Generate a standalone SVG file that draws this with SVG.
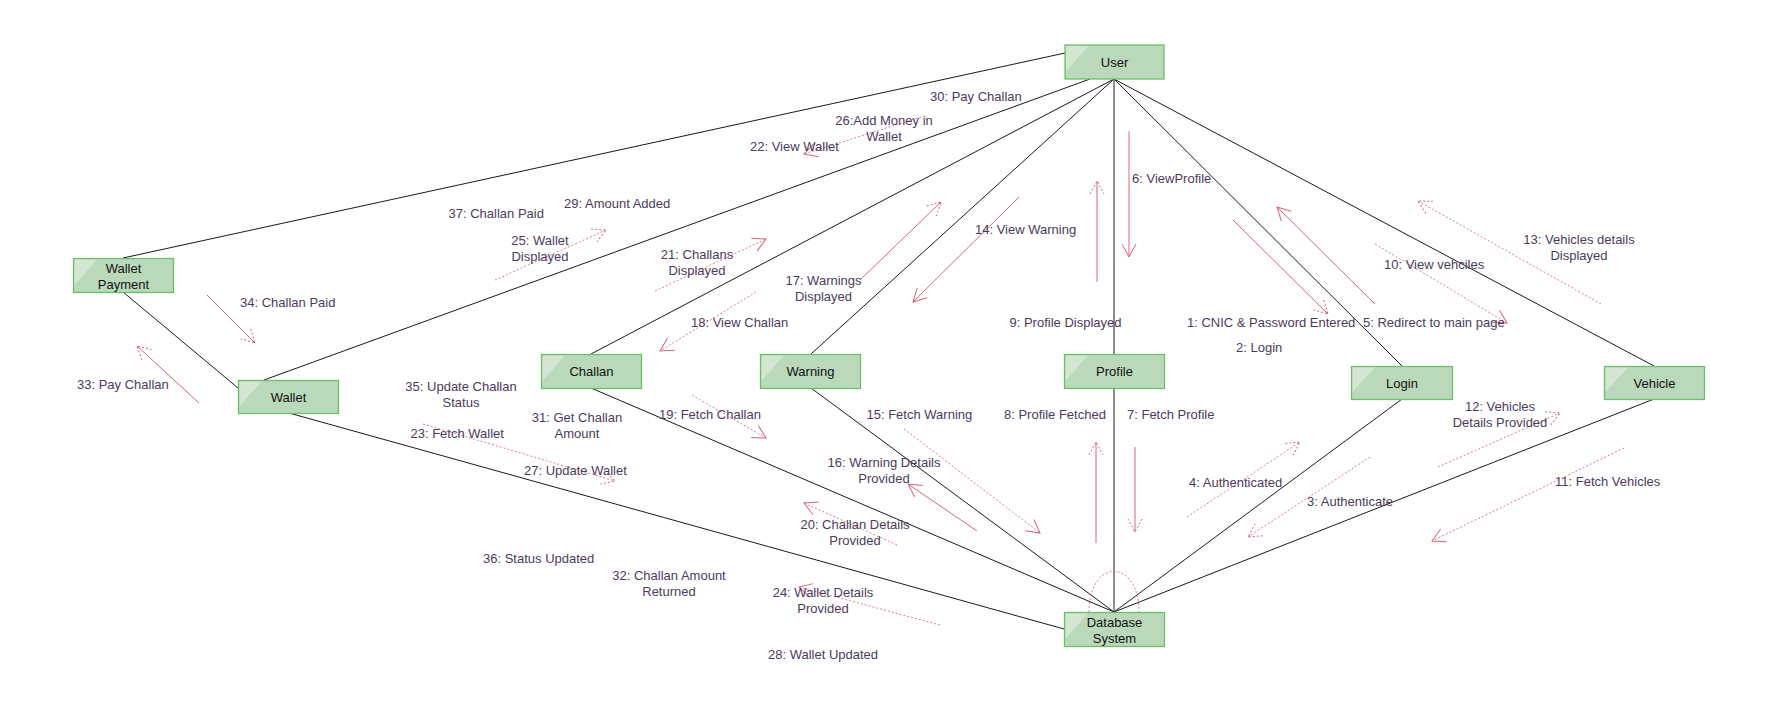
<svg xmlns="http://www.w3.org/2000/svg" width="1765" height="704" viewBox="0 0 1765 704">
<style>
.node rect.box{fill:#bad9ba;stroke:#6abf69;stroke-width:1.3}
.node polygon{fill:#ffffff;fill-opacity:0.35}
.node text{font-family:"Liberation Sans",Arial,sans-serif;font-size:13px;fill:#111;text-anchor:middle}
.conn line,.conn path{stroke:#1a1a1a;stroke-width:1;fill:none}
.msg line{stroke:#d8647a;stroke-width:1;fill:none}
.msg .d{stroke-dasharray:2,2;stroke-opacity:0.85}
.msg .s{marker-end:url(#hs)}
.msg .h{marker-end:url(#hd)}
.loop{stroke:#d8647a;stroke-width:1;fill:none;stroke-dasharray:2,2;stroke-opacity:0.85}
.lbl text{font-family:"Liberation Sans",Arial,sans-serif;font-size:13px;fill:#4b3b5c}
.lbl .m{text-anchor:middle}
</style>
<defs>
<marker id="hs" viewBox="-15 -9 17 18" refX="0" refY="0" markerWidth="17" markerHeight="18" orient="auto" markerUnits="userSpaceOnUse">
<path d="M-13,-7 L0,0 L-13,7" fill="none" stroke="#d8647a" stroke-width="1"/>
</marker>
<marker id="hd" viewBox="-15 -9 17 18" refX="0" refY="0" markerWidth="17" markerHeight="18" orient="auto" markerUnits="userSpaceOnUse">
<path d="M-13,-7 L0,0 L-13,7" fill="none" stroke="#d8647a" stroke-width="1" stroke-dasharray="2,2"/>
</marker>
</defs>
<rect width="1765" height="704" fill="#ffffff"/>

<g id="connectors" class="conn">
<line x1="1065" y1="53" x2="123" y2="258"/>
<line x1="1090" y1="79" x2="264" y2="380"/>
<line x1="1114" y1="79" x2="591" y2="354"/>
<line x1="1114" y1="79" x2="811" y2="354"/>
<line x1="1114" y1="79" x2="1114" y2="354"/>
<line x1="1114" y1="79" x2="1402" y2="366"/>
<line x1="1114" y1="79" x2="1654" y2="366"/>
<line x1="123" y1="292" x2="238" y2="388"/>
<line x1="289" y1="413" x2="1064" y2="629"/>
<line x1="591" y1="388" x2="1114" y2="612"/>
<line x1="811" y1="388" x2="1114" y2="612"/>
<line x1="1114" y1="388" x2="1114" y2="612"/>
<line x1="1402" y1="399" x2="1114" y2="612"/>
<line x1="1654" y1="399" x2="1114" y2="612"/>
</g>

<path class="loop" d="M1089,612 C1089,558 1139,558 1139,612"/>

<g id="messages" class="msg">
<line class="d s" x1="921" y1="117" x2="804" y2="154"/>
<line class="d h" x1="495" y1="280" x2="606" y2="230"/>
<line class="h" x1="207" y1="295" x2="255" y2="343"/>
<line class="h" x1="199" y1="403" x2="137" y2="346"/>
<line class="d s" x1="655" y1="291" x2="766" y2="239"/>
<line class="h" x1="860" y1="280" x2="941" y2="202"/>
<line class="d s" x1="756" y1="292" x2="660" y2="351"/>
<line class="s" x1="1019" y1="197" x2="913" y2="302"/>
<line class="s" x1="1129" y1="131" x2="1129" y2="257"/>
<line class="h" x1="1097" y1="282" x2="1097" y2="181"/>
<line class="h" x1="1233" y1="220" x2="1328" y2="314"/>
<line class="s" x1="1375" y1="304" x2="1277" y2="207"/>
<line class="d s" x1="1375" y1="244" x2="1507" y2="323"/>
<line class="d h" x1="1601" y1="304" x2="1418" y2="201"/>
<line class="d h" x1="423" y1="424" x2="615" y2="481"/>
<line class="d s" x1="692" y1="395" x2="766" y2="438"/>
<line class="d s" x1="904" y1="429" x2="1040" y2="533"/>
<line class="s" x1="977" y1="531" x2="908" y2="484"/>
<line class="d s" x1="897" y1="545" x2="804" y2="503"/>
<line class="h" x1="1096" y1="543" x2="1096" y2="442"/>
<line class="h" x1="1135" y1="447" x2="1135" y2="532"/>
<line class="d s" x1="940" y1="625" x2="799" y2="587"/>
<line class="d h" x1="1187" y1="517" x2="1300" y2="442"/>
<line class="d h" x1="1370" y1="457" x2="1248" y2="537"/>
<line class="d h" x1="1438" y1="467" x2="1560" y2="413"/>
<line class="d s" x1="1624" y1="448" x2="1432" y2="541"/>
</g>

<g id="labels" class="lbl">
<text x="930" y="100.5">30: Pay Challan</text>
<text class="m" x="884" y="124.5">26:Add Money in</text>
<text class="m" x="884" y="140.5">Wallet</text>
<text x="750" y="150.5">22: View Wallet</text>
<text x="564" y="207.5">29: Amount Added</text>
<text x="448.5" y="217.5">37: Challan Paid</text>
<text class="m" x="540" y="244.5">25: Wallet</text>
<text class="m" x="540" y="260.5">Displayed</text>
<text x="240" y="306.5">34: Challan Paid</text>
<text x="77" y="388.5">33: Pay Challan</text>
<text class="m" x="697" y="258.5">21: Challans</text>
<text class="m" x="697" y="274.5">Displayed</text>
<text class="m" x="823.5" y="284.5">17: Warnings</text>
<text class="m" x="823.5" y="300.5">Displayed</text>
<text x="691" y="326.5">18: View Challan</text>
<text x="975" y="233.5">14: View Warning</text>
<text x="1132" y="182.5">6: ViewProfile</text>
<text x="1009.5" y="326.5">9: Profile Displayed</text>
<text x="1187" y="326.5">1: CNIC &amp; Password Entered</text>
<text x="1236" y="351.5">2: Login</text>
<text x="1363" y="326.5">5: Redirect to main page</text>
<text x="1384" y="268.5">10: View vehciles</text>
<text class="m" x="1579" y="243.5">13: Vehicles details</text>
<text class="m" x="1579" y="259.5">Displayed</text>
<text class="m" x="461" y="390.5">35: Update Challan</text>
<text class="m" x="461" y="406.5">Status</text>
<text x="410.5" y="437.5">23: Fetch Wallet</text>
<text class="m" x="577" y="421.5">31: Get Challan</text>
<text class="m" x="577" y="437.5">Amount</text>
<text x="524" y="474.5">27: Update Wallet</text>
<text x="483" y="562.5">36: Status Updated</text>
<text x="659" y="418.5">19: Fetch Challan</text>
<text x="866.5" y="418.5">15: Fetch Warning</text>
<text class="m" x="884" y="466.5">16: Warning Details</text>
<text class="m" x="884" y="482.5">Provided</text>
<text class="m" x="855" y="528.5">20: Challan Details</text>
<text class="m" x="855" y="544.5">Provided</text>
<text x="1004" y="418.5">8: Profile Fetched</text>
<text x="1127" y="418.5">7: Fetch Profile</text>
<text class="m" x="669" y="579.5">32: Challan Amount</text>
<text class="m" x="669" y="595.5">Returned</text>
<text class="m" x="823" y="596.5">24: Wallet Details</text>
<text class="m" x="823" y="612.5">Provided</text>
<text x="768" y="658.5">28: Wallet Updated</text>
<text x="1189" y="486.5">4: Authenticated</text>
<text x="1307" y="505.5">3: Authenticate</text>
<text class="m" x="1500" y="410.5">12: Vehicles</text>
<text class="m" x="1500" y="426.5">Details Provided</text>
<text x="1555" y="485.5">11: Fetch Vehicles</text>
</g>

<g id="node-user" class="node">
<rect class="box" x="1065" y="45" width="99" height="34"/>
<polygon points="1066,46 1089,46 1066,71"/>
<text x="1114.5" y="66.5">User</text>
</g>
<g id="node-wallet-payment" class="node">
<rect class="box" x="73.5" y="258.5" width="100" height="34"/>
<polygon points="74.5,259.5 97,259.5 74.5,285"/>
<text x="123.5" y="273">Wallet</text>
<text x="123.5" y="289">Payment</text>
</g>
<g id="node-wallet" class="node">
<rect class="box" x="238.5" y="380.5" width="100" height="33"/>
<polygon points="239.5,381.5 262,381.5 239.5,406"/>
<text x="288.5" y="401.5">Wallet</text>
</g>
<g id="node-challan" class="node">
<rect class="box" x="541.5" y="354.5" width="100" height="34"/>
<polygon points="542.5,355.5 565,355.5 542.5,381"/>
<text x="591.5" y="376">Challan</text>
</g>
<g id="node-warning" class="node">
<rect class="box" x="760.5" y="354.5" width="100" height="34"/>
<polygon points="761.5,355.5 784,355.5 761.5,381"/>
<text x="810.5" y="376">Warning</text>
</g>
<g id="node-profile" class="node">
<rect class="box" x="1064.5" y="354.5" width="100" height="34"/>
<polygon points="1065.5,355.5 1088,355.5 1065.5,381"/>
<text x="1114.5" y="376">Profile</text>
</g>
<g id="node-login" class="node">
<rect class="box" x="1351.5" y="366.5" width="101" height="33"/>
<polygon points="1352.5,367.5 1375,367.5 1352.5,392"/>
<text x="1402" y="387.5">Login</text>
</g>
<g id="node-vehicle" class="node">
<rect class="box" x="1604.5" y="366.5" width="100" height="33"/>
<polygon points="1605.5,367.5 1628,367.5 1605.5,392"/>
<text x="1654.5" y="387.5">Vehicle</text>
</g>
<g id="node-database" class="node">
<rect class="box" x="1064.5" y="612.5" width="100" height="34"/>
<polygon points="1065.5,613.5 1088,613.5 1065.5,639"/>
<text x="1114.5" y="627">Database</text>
<text x="1114.5" y="643">System</text>
</g>
</svg>
